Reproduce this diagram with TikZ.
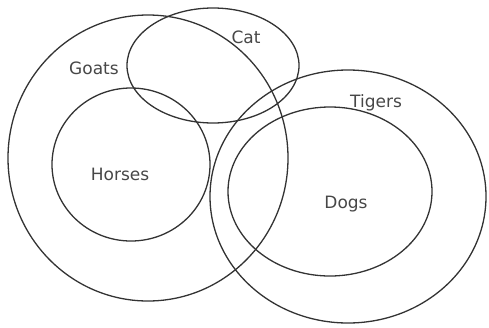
\documentclass[tikz,border=0pt]{standalone}
\usepackage{fontspec}
\setmainfont{DejaVu Sans}
\usepackage{tikz}
\tikzset{
  setline/.style={line width=1.3pt,draw=black!80},
  setlabel/.style={font=\fontsize{17}{20}\selectfont,text=black!72,inner sep=0pt}
}

\begin{document}
\begin{tikzpicture}[x=1pt,y=-1pt]
\useasboundingbox (0,0) rectangle (489,327);
\draw[setline] (148,158) ellipse [x radius=140,y radius=143];
\draw[setline] (213,65.5) ellipse [x radius=86,y radius=57.5];
\draw[setline] (131,164.5) ellipse [x radius=79,y radius=76.5];
\draw[setline] (348,196.5) ellipse [x radius=138,y radius=126.5];
\draw[setline] (330,191.5) ellipse [x radius=102,y radius=84.5];
\node[setlabel] (goats) at (94,68.5) {Goats};
\node[setlabel] (cat) at (246,37) {Cat};
\node[setlabel] (tigers) at (376,103) {Tigers};
\node[setlabel] (horses) at (120,174.5) {Horses};
\node[setlabel] (dogs) at (346,204) {Dogs};
\end{tikzpicture}
\end{document}
